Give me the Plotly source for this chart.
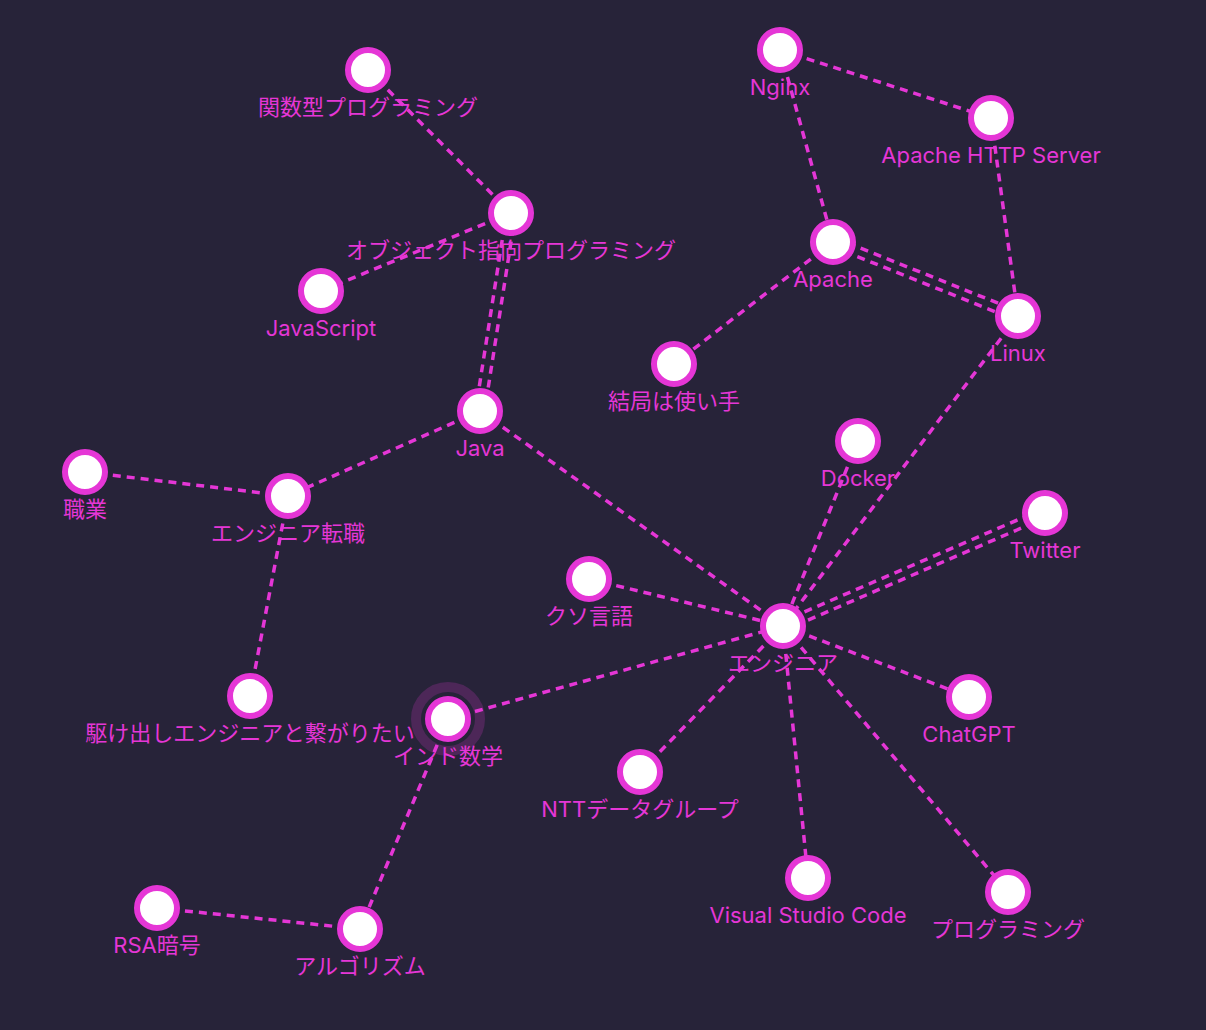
import plotly.graph_objects as go
import math

# ---- data ----
node_names = [
    "関数型プログラミング", "オブジェクト指向プログラミング", "JavaScript", "Java",
    "職業", "エンジニア転職", "駆け出しエンジニアと繋がりたい", "インド数学",
    "RSA暗号", "アルゴリズム", "Nginx", "Apache HTTP Server", "Apache", "Linux",
    "結局は使い手", "Docker", "Twitter", "クソ言語", "エンジニア", "ChatGPT",
    "NTTデータグループ", "Visual Studio Code", "プログラミング",
]
node_x = [368, 511, 321, 480, 85, 288, 250, 448, 157, 360, 780, 991, 833, 1018,
          674, 858, 1045, 589, 783, 969, 640, 808, 1008]
node_y = [70, 213, 291, 411, 472, 496, 696, 719, 908, 929, 50, 118, 242, 316,
          364, 441, 513, 579, 626, 697, 772, 878, 892]

edge_src = ["関数型プログラミング", "オブジェクト指向プログラミング", "オブジェクト指向プログラミング",
            "Java", "職業", "エンジニア転職", "Java", "インド数学", "インド数学", "アルゴリズム",
            "Nginx", "Nginx", "Apache HTTP Server", "Apache", "Apache", "Linux", "Docker",
            "Twitter", "クソ言語", "エンジニア", "エンジニア", "エンジニア", "エンジニア"]
edge_dst = ["オブジェクト指向プログラミング", "JavaScript", "Java",
            "エンジニア転職", "エンジニア転職", "駆け出しエンジニアと繋がりたい", "エンジニア",
            "エンジニア", "アルゴリズム", "RSA暗号",
            "Apache HTTP Server", "Apache", "Linux", "Linux", "結局は使い手", "エンジニア",
            "エンジニア", "エンジニア", "エンジニア", "ChatGPT", "NTTデータグループ",
            "Visual Studio Code", "プログラミング"]
edge_count = [1, 1, 2, 1, 1, 1, 1, 1, 1, 1, 1, 1, 1, 2, 1, 1, 1, 2, 1, 1, 1, 1, 1]

highlight = ["インド数学"]

# ---- style ----
BG = "#272339"
MAG = "#e536d6"
W, H = 1206, 1030
LABEL_DY = 39
PAIR_GAP = 9

pos = {n: (x, y) for n, x, y in zip(node_names, node_x, node_y)}

fig = go.Figure()

# labels (behind edges)
fig.add_trace(go.Scatter(
    x=node_x, y=[y + LABEL_DY for y in node_y], mode="text", text=node_names,
    textfont=dict(family="Inter, 'Noto Sans CJK JP', sans-serif", size=22, color=MAG),
    hoverinfo="skip", showlegend=False))

# edges
ex, ey = [], []
for s, d, c in zip(edge_src, edge_dst, edge_count):
    x0, y0 = pos[s]
    x1, y1 = pos[d]
    L = math.hypot(x1 - x0, y1 - y0)
    nx, ny = -(y1 - y0) / L, (x1 - x0) / L
    offs = [0] if c == 1 else [-PAIR_GAP * (c - 1) / 2 + PAIR_GAP * i for i in range(c)]
    for o in offs:
        ex += [x0 + nx * o, x1 + nx * o, None]
        ey += [y0 + ny * o, y1 + ny * o, None]
fig.add_trace(go.Scatter(
    x=ex, y=ey, mode="lines", line=dict(color=MAG, width=3.5, dash="8px,6px"),
    hoverinfo="skip", showlegend=False))

# highlight halo
hx = [pos[n][0] for n in highlight]
hy = [pos[n][1] for n in highlight]
fig.add_trace(go.Scatter(
    x=hx, y=hy, mode="markers",
    marker=dict(size=64, color="rgba(0,0,0,0)",
                line=dict(color="rgba(229,54,214,0.2)", width=10)),
    hoverinfo="skip", showlegend=False))

# nodes
fig.add_trace(go.Scatter(
    x=node_x, y=node_y, mode="markers",
    marker=dict(size=40, color="white", line=dict(color=MAG, width=6)),
    text=node_names, hoverinfo="text", showlegend=False))

fig.update_layout(
    width=W, height=H, margin=dict(l=0, r=0, t=0, b=0),
    paper_bgcolor=BG, plot_bgcolor=BG,
    xaxis=dict(range=[0, W], visible=False, fixedrange=True),
    yaxis=dict(range=[H, 0], visible=False, fixedrange=True),
)
fig.write_html(
    "out.html",
    config={"displayModeBar": False},
    post_script="document.body.style.margin='0';document.body.style.background='%s';" % BG,
)
